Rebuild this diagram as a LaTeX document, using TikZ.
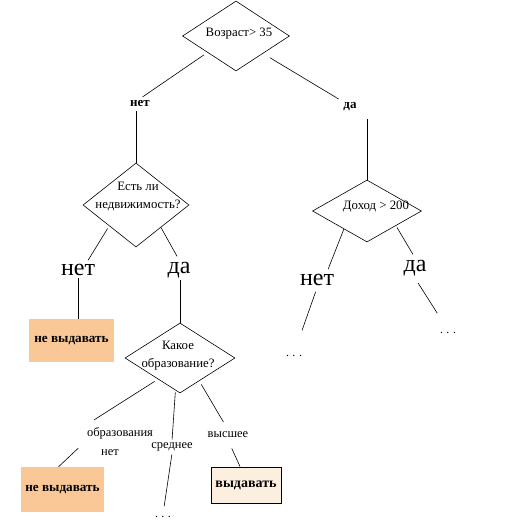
\documentclass[tikz,border=0pt]{standalone}
\usepackage{fontspec}
\setmainfont{Liberation Serif}
\usetikzlibrary{shapes.geometric,calc}
\definecolor{peach}{HTML}{F9C896}
\definecolor{pale}{HTML}{FDEFDF}
\tikzset{
  dia/.style={draw, shape=diamond, inner sep=0pt, line width=0.6pt},
  dtext/.style={font=\fontsize{12.8}{18}\selectfont, align=center, inner sep=0pt},
  conn/.style={line width=0.6pt},
  toplab/.style={font=\fontsize{13}{15}\selectfont\bfseries, inner sep=2pt},
  biglab/.style={font=\fontsize{24}{26}\selectfont, inner sep=2pt},
  smalllab/.style={font=\fontsize{12.5}{19}\selectfont, inner sep=2pt, align=center},
  outbox/.style={fill=peach, font=\fontsize{13.2}{15}\selectfont\bfseries, inner sep=0pt},
  yesbox/.style={fill=pale, draw=black, line width=1pt, font=\fontsize{14}{16}\selectfont\bfseries, inner sep=0pt},
  dotlab/.style={font=\fontsize{12}{14}\selectfont, inner sep=2pt}
}
\newcommand{\mydots}{.\hspace{3.5pt}.\hspace{3.5pt}.}
\begin{document}
\begin{tikzpicture}[x=1pt,y=-1pt]
\useasboundingbox (0,0) rectangle (517,532);
\fill[white] (0,0) rectangle (517,532);

% diamonds
\node[dia, minimum width=107pt, minimum height=70pt] (d1) at (236,36) {};
\node[dtext] (d1t) at (239,34) {Возраст> 35};
\node[dia, minimum width=106pt, minimum height=84pt] (d2) at (136,205) {};
\node[dtext] (d2t) at (138,197) {Есть ли\\недвижимость?};
\node[dia, minimum width=110pt, minimum height=70pt] (d3) at (180,358) {};
\node[dtext] (d3t) at (178,356) {Какое\\образование?};
\node[dia, minimum width=109pt, minimum height=62pt] (d4) at (367,211) {};
\node[dtext] (d4t) at (376,207) {Доход > 200};

% labels
\node[toplab] (n1) at (140,104) {нет};
\node[toplab] (y1) at (350,107) {да};
\node[biglab] (n2) at (78,270) {нет};
\node[biglab] (y2) at (179,270) {да};
\node[biglab] (n4) at (317,280) {нет};
\node[biglab] (y4) at (415,268) {да};
\node[smalllab] (l31) at (120,442) {образования\\\hspace*{-20pt}нет};
\node[smalllab] (l32) at (172,447) {среднее};
\node[smalllab] (l33) at (228,435) {высшее};

% outcome boxes
\node[outbox, minimum width=85pt, minimum height=43pt] (b1) at (71.5,340.5) {не выдавать};
\node[outbox, minimum width=83pt, minimum height=45pt] (b2) at (62.5,489.5) {не выдавать};
\node[yesbox, minimum width=70pt, minimum height=36pt] (b3) at (246,485) {выдавать};

% dots
\node[dotlab] (dots1) at (163,517) {\mydots};
\node[dotlab] (dots2) at (294,356) {\mydots};
\node[dotlab] (dots3) at (448,333) {\mydots};

% connectors
\draw[conn, shorten <=4pt, shorten >=3pt] (d1.210) -- (n1.north);
\draw[conn, shorten <=8pt, shorten >=3pt] (d1.-33) -- (y1.north west);
\draw[conn, shorten <=2pt] (n1.south -| d2.north) -- (d2.north);
\draw[conn, shorten <=6pt] (y1.south -| d4.north) -- (d4.north);

\draw[conn, shorten <=3pt, shorten >=2pt] (d2.218) -- ([xshift=9pt]n2.north);
\draw[conn, shorten >=4pt] (d2.-42) -- (y2.north);
\draw[conn] (n2.south) -- (n2.south |- b1.north);
\draw[conn] (y2.south -| d3.north) -- (d3.north);

\draw[conn, shorten <=4pt, shorten >=11pt] (d3.224) -- (l31.north west);
\draw[conn, shorten <=9pt] (l31.west) -- ([xshift=-4pt]b2.north);
\draw[conn, shorten <=2pt, shorten >=1pt] (d3.262) -- (l32.north);
\draw[conn, shorten <=1pt, shorten >=8pt] (l32.south) -- (dots1.north);
\draw[conn, shorten <=4pt, shorten >=9pt] (d3.-50) -- (l33.north);
\draw[conn, shorten <=9pt] (l33.south) -- ([xshift=-6pt]b3.north);

\draw[conn, shorten >=3pt] (d4.218) -- ([xshift=10pt]n4.north);
\draw[conn, shorten <=2pt, shorten >=4pt] (d4.-27) -- (y4.north);
\draw[conn, shorten <=4pt, shorten >=24pt] (n4.south) -- (dots2.north);
\draw[conn, shorten <=6pt, shorten >=20pt] (y4.south) -- (dots3.north);
\end{tikzpicture}
\end{document}
